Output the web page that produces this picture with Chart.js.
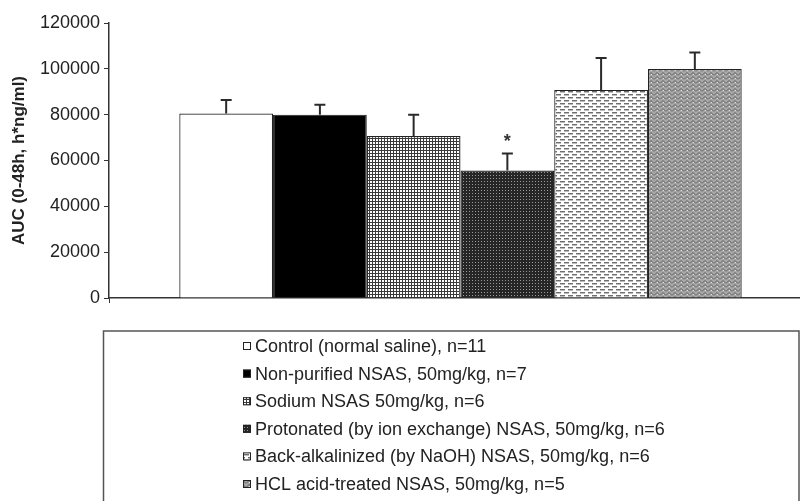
<!DOCTYPE html>
<html>
<head>
<meta charset="utf-8">
<script src="https://cdn.jsdelivr.net/npm/chart.js@4.4.0/dist/chart.umd.min.js"></script>
<style>
    html, body { margin: 0; padding: 0; overflow: hidden; background: #fff; }
    canvas { display: block; }
</style>
</head>
<body>
<canvas id="chart" width="812" height="501"></canvas>
<script>
// data
const groups = [
    "Control (normal saline), n=11",
    "Non-purified NSAS, 50mg/kg, n=7",
    "Sodium NSAS 50mg/kg, n=6",
    "Protonated (by ion exchange) NSAS, 50mg/kg, n=6",
    "Back-alkalinized (by NaOH) NSAS, 50mg/kg, n=6",
    "HCL acid-treated NSAS, 50mg/kg, n=5"
];
const aucMean = [80500, 80000, 70700, 55600, 90800, 99900];
const aucErr = [5900, 4300, 9300, 7500, 13900, 7200];
const marks = ["", "", "", "*", "", ""];
const yTicks = [0, 20000, 40000, 60000, 80000, 100000, 120000];

const FONT = "'Liberation Sans', Arial, sans-serif";
const ctx = document.getElementById("chart").getContext("2d");

function makePattern(w, h, bg, draw) {
    const c = document.createElement("canvas");
    c.width = w;
    c.height = h;
    const g = c.getContext("2d");
    g.fillStyle = bg;
    g.fillRect(0, 0, w, h);
    draw(g);
    return ctx.createPattern(c, "repeat");
}

const fills = [
    "#ffffff",
    "#000000",
    // fine grid
    makePattern(3, 3, "#ffffff", g => {
        g.fillStyle = "#3a3a3a";
        g.fillRect(0, 0, 3, 1);
        g.fillRect(0, 0, 1, 3);
    }),
    // dark with light dots
    makePattern(3, 3, "#262626", g => {
        g.fillStyle = "#9a9a9a";
        g.fillRect(1, 1, 1, 1);
    }),
    // staggered dashes
    makePattern(8, 6, "#ffffff", g => {
        g.fillStyle = "#6e6e6e";
        g.fillRect(0, 1, 5, 1);
        g.fillRect(4, 4, 4, 1);
        g.fillRect(0, 4, 1, 1);
        g.fillStyle = "#bdbdbd";
        g.fillRect(0, 2, 5, 1);
        g.fillRect(4, 5, 4, 1);
        g.fillRect(0, 5, 1, 1);
    }),
    // zigzag
    makePattern(6, 4, "#a8a8a8", g => {
        g.strokeStyle = "#5e5e5e";
        g.lineWidth = 1;
        g.beginPath();
        g.moveTo(0, 3.5);
        g.lineTo(3, 0.5);
        g.lineTo(6, 3.5);
        g.stroke();
        g.fillStyle = "#e0e0e0";
        g.fillRect(3, 2, 1, 1);
    })
];

// error bars and the significance mark
const errorBars = {
    id: "errorBars",
    afterDatasetsDraw(chart) {
        const c = chart.ctx;
        const y = chart.scales.y;
        c.save();
        c.strokeStyle = "#2a2a2a";
        c.lineWidth = 2;
        chart.data.datasets.forEach((ds, i) => {
            const bar = chart.getDatasetMeta(i).data[0];
            const top = y.getPixelForValue(ds.data[0] + aucErr[i]);
            c.beginPath();
            c.moveTo(bar.x, bar.y);
            c.lineTo(bar.x, top);
            c.moveTo(bar.x - 5.5, top);
            c.lineTo(bar.x + 5.5, top);
            c.stroke();
            if (marks[i]) {
                c.fillStyle = "#333";
                c.font = "bold 18px " + FONT;
                c.textAlign = "center";
                c.textBaseline = "middle";
                c.fillText(marks[i], bar.x, top - 11);
            }
        });
        c.restore();
    }
};

// boxed legend, one entry per line
const boxLegend = {
    id: "boxLegend",
    afterDraw(chart) {
        const c = chart.ctx;
        c.save();
        c.strokeStyle = "#555";
        c.lineWidth = 1.5;
        c.strokeRect(103.5, 331, 695.5, 200);
        c.font = "18px " + FONT;
        c.textBaseline = "middle";
        c.textAlign = "left";
        chart.data.datasets.forEach((ds, i) => {
            const ly = 346 + i * 27.6;
            c.fillStyle = ds.backgroundColor;
            c.fillRect(243, ly - 4, 8, 8);
            c.strokeStyle = "#222";
            c.lineWidth = 1;
            c.strokeRect(243.5, ly - 3.5, 7, 7);
            c.fillStyle = "#222";
            c.fillText(ds.label, 255, ly + 1);
        });
        c.restore();
    }
};

new Chart(ctx, {
    type: "bar",
    data: {
        labels: ["AUC"],
        datasets: groups.map((name, i) => ({
            label: name,
            data: [aucMean[i]],
            backgroundColor: fills[i],
            borderColor: "#222",
            borderWidth: 1.2,
            borderSkipped: "bottom"
        }))
    },
    options: {
        responsive: false,
        animation: false,
        devicePixelRatio: 1,
        categoryPercentage: 0.8,
        barPercentage: 1,
        layout: { padding: { top: 23, bottom: 203, left: 0, right: 0 } },
        plugins: {
            legend: { display: false },
            tooltip: { enabled: false }
        },
        scales: {
            x: {
                offset: true,
                ticks: { display: false },
                grid: { display: true, offset: true, drawOnChartArea: false, tickLength: 5, color: "#333" },
                border: { display: true, color: "#333", width: 1.5 },
                afterFit: s => { s.height = 0; }
            },
            y: {
                min: 0,
                max: 120000,
                afterBuildTicks: axis => { axis.ticks = yTicks.map(v => ({ value: v })); },
                ticks: {
                    color: "#222",
                    padding: 4,
                    font: { family: FONT, size: 18 },
                    callback: v => String(v)
                },
                grid: { drawOnChartArea: false, tickLength: 5, color: "#333" },
                border: { display: true, color: "#333", width: 1.5 },
                title: {
                    display: true,
                    text: "AUC (0-48h, h*ng/ml)",
                    color: "#222",
                    font: { family: FONT, size: 17, weight: "bold" },
                    padding: { top: 9, bottom: 0 }
                },
                afterFit: s => { s.width = 109; }
            }
        }
    },
    plugins: [errorBars, boxLegend]
});
</script>
</body>
</html>
